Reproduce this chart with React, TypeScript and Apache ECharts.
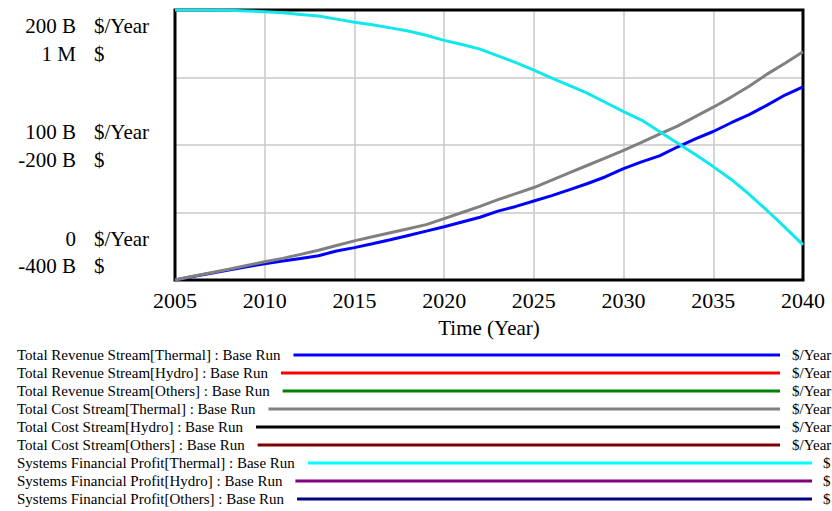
import React, { useEffect, useRef } from "react";
import * as echarts from "echarts";

const years = [
  2005, 2006, 2007, 2008, 2009, 2010, 2011, 2012, 2013, 2014, 2015, 2016,
  2017, 2018, 2019, 2020, 2021, 2022, 2023, 2024, 2025, 2026, 2027, 2028,
  2029, 2030, 2031, 2032, 2033, 2034, 2035, 2036, 2037, 2038, 2039, 2040,
];

// billions of $/Year
const revenueThermal = [
  0, 2.6, 5.0, 7.4, 9.8, 12.0, 14.0, 16.0, 18.0, 21.5, 24.0, 26.8, 29.8, 33.0,
  36.2, 39.5, 43.0, 46.5, 51.0, 54.5, 58.5, 62.5, 67.0, 71.5, 76.5, 82.5, 87.5,
  92.0, 98.5, 104.5, 110.0, 116.5, 122.5, 129.5, 137.0, 143.0,
];
const costThermal = [
  0, 2.8, 5.4, 8.0, 10.8, 13.5, 16.0, 19.0, 22.0, 25.5, 29.0, 32.0, 35.0, 38.0,
  41.0, 45.5, 50.0, 54.5, 59.5, 64.0, 68.5, 74.0, 79.5, 85.0, 90.5, 96.0, 102.0,
  108.0, 114.0, 121.0, 128.0, 135.5, 143.5, 152.5, 160.5, 169.0,
];
// billions of $
const profitThermal = [
  0, 0, 0, -0.5, -1.5, -2.5, -4, -6.5, -9, -13.5, -18, -22, -26.5, -31, -37.5,
  -45, -51, -58, -68, -78, -89, -101, -112, -123.5, -137, -150.5, -163, -180,
  -197, -214, -232, -251, -273, -297, -322, -348,
];

const xTicks = ["2005", "2010", "2015", "2020", "2025", "2030", "2035", "2040"];
const leftTickValues = ["200 B", "1 M", "100 B", "-200 B", "0", "-400 B"];
const leftTickUnits = ["$/Year", "$", "$/Year", "$", "$/Year", "$"];

const legendNames = [
  "Total Revenue Stream[Thermal] : Base Run",
  "Total Revenue Stream[Hydro] : Base Run",
  "Total Revenue Stream[Others] : Base Run",
  "Total Cost Stream[Thermal] : Base Run",
  "Total Cost Stream[Hydro] : Base Run",
  "Total Cost Stream[Others] : Base Run",
  "Systems Financial Profit[Thermal] : Base Run",
  "Systems Financial Profit[Hydro] : Base Run",
  "Systems Financial Profit[Others] : Base Run",
];
const legendColors = [
  "#0000ff", "#ff0000", "#008000", "#808080", "#000000", "#800000",
  "#00ffff", "#800080", "#000080",
];
const legendUnits = [
  "$/Year", "$/Year", "$/Year", "$/Year", "$/Year", "$/Year", "$", "$", "$",
];

const FONT = "'Liberation Serif', 'Times New Roman', serif";

export default function App() {
  const ref = useRef<HTMLDivElement>(null);
  useEffect(() => {
    if (!ref.current) return;
    const chart = echarts.init(ref.current, undefined, { renderer: "svg" });

    const canvas = document.createElement("canvas");
    const ctx = canvas.getContext("2d")!;
    ctx.font = "15px 'Liberation Serif'";

    const B = 1e9;
    const pair = (arr: number[]) => years.map((y, i) => [y, arr[i] * B]);

    const labelY = [26, 54, 132, 160, 239, 266];
    const graphics: any[] = [
      {
        type: "rect",
        z: 1,
        shape: { x: 175, y: 10, width: 628, height: 270 },
        style: { fill: "none", stroke: "#000", lineWidth: 3 },
      },
    ];
    leftTickValues.forEach((t, i) => {
      graphics.push({
        type: "text",
        x: 76,
        y: labelY[i],
        style: {
          text: t,
          font: `21px ${FONT}`,
          fill: "#000",
          align: "right",
          verticalAlign: "middle",
        },
      });
      graphics.push({
        type: "text",
        x: 94,
        y: labelY[i],
        style: {
          text: leftTickUnits[i],
          font: `21px ${FONT}`,
          fill: "#000",
          align: "left",
          verticalAlign: "middle",
        },
      });
    });

    legendNames.forEach((n, i) => {
      const y = 355 + 18 * i;
      const w = ctx.measureText(n).width;
      const isRate = legendUnits[i] === "$/Year";
      graphics.push({
        type: "text",
        x: 17,
        y,
        style: {
          text: n,
          font: `15px ${FONT}`,
          fill: "#000",
          align: "left",
          verticalAlign: "middle",
        },
      });
      graphics.push({
        type: "line",
        shape: { x1: 17 + w + 13, y1: y, x2: isRate ? 780 : 812, y2: y },
        style: { stroke: legendColors[i], lineWidth: 3 },
      });
      graphics.push({
        type: "text",
        x: isRate ? 792 : 823,
        y,
        style: {
          text: legendUnits[i],
          font: `15px ${FONT}`,
          fill: "#000",
          align: "left",
          verticalAlign: "middle",
        },
      });
    });

    chart.setOption({
      animation: false,
      backgroundColor: "#fff",
      grid: {
        left: 175,
        top: 10,
        width: 628,
        height: 270,
        show: false,
      },
      xAxis: {
        type: "value",
        min: 2005,
        max: 2040,
        interval: 5,
        axisLine: { show: false },
        axisTick: { show: false },
        splitLine: { show: true, lineStyle: { color: "#c8c8c8", width: 1.5 } },
        axisLabel: {
          formatter: (v: number) => xTicks[Math.round((v - 2005) / 5)] ?? "",
          fontFamily: FONT,
          fontSize: 22,
          color: "#000",
          margin: 9,
        },
        name: "Time (Year)",
        nameLocation: "middle",
        nameGap: 37,
        nameTextStyle: { fontFamily: FONT, fontSize: 21, color: "#000" },
      },
      yAxis: [
        {
          type: "value",
          min: 0,
          max: 200 * B,
          interval: 50 * B,
          axisLine: { show: false },
          axisTick: { show: false },
          axisLabel: { show: false },
          splitLine: { show: true, lineStyle: { color: "#c8c8c8", width: 1.5 } },
        },
        {
          type: "value",
          min: -400 * B,
          max: 1e6,
          position: "left",
          axisLine: { show: false },
          axisTick: { show: false },
          axisLabel: { show: false },
          splitLine: { show: false },
        },
      ],
      series: [
        {
          type: "line",
          name: legendNames[0],
          yAxisIndex: 0,
          data: pair(revenueThermal),
          showSymbol: false,
          lineStyle: { color: legendColors[0], width: 3 },
        },
        {
          type: "line",
          name: legendNames[3],
          yAxisIndex: 0,
          data: pair(costThermal),
          showSymbol: false,
          lineStyle: { color: legendColors[3], width: 3 },
        },
        {
          type: "line",
          name: legendNames[6],
          yAxisIndex: 1,
          data: pair(profitThermal),
          showSymbol: false,
          lineStyle: { color: "#10e8ee", width: 3 },
        },
      ],
      graphic: graphics,
    });
    return () => chart.dispose();
  }, []);
  return <div ref={ref} style={{ width: 832, height: 511, position: "absolute", left: 0, top: 0 }} />;
}
